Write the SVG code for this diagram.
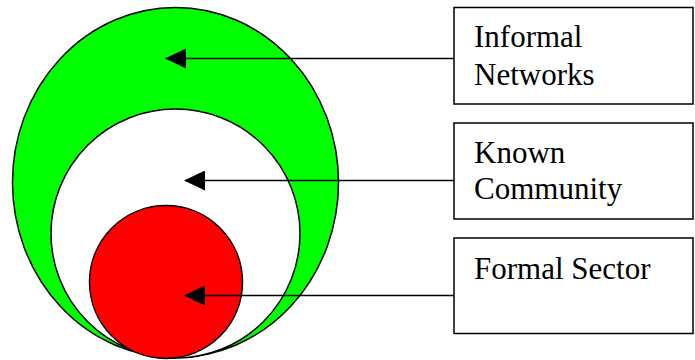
<svg xmlns="http://www.w3.org/2000/svg" width="695" height="360" viewBox="0 0 695 360">
<style>
.shape{stroke:#000;stroke-width:1.5}
.box{fill:#fff;stroke:#000;stroke-width:1.5}
.lbl{font-family:"Liberation Serif","Times New Roman",serif;font-size:31px;fill:#000}
.conn{stroke:#000;stroke-width:1.5;fill:none}
</style>
<defs>
<marker id="ah" markerWidth="21" markerHeight="20" refX="20" refY="10" orient="auto" markerUnits="userSpaceOnUse">
<path d="M0,0 L21,10 L0,20 Z" fill="#000"/>
</marker>
</defs>
<g id="informal-networks">
<ellipse class="shape" cx="175.5" cy="182.5" rx="163" ry="175" fill="#00ff00"/>
</g>
<g id="known-community">
<circle class="shape" cx="175.5" cy="233.5" r="124.5" fill="#fff"/>
</g>
<g id="formal-sector">
<circle class="shape" cx="166" cy="282" r="76.5" fill="#ff0000"/>
</g>
<g id="box-informal">
<rect class="box" x="454" y="7.5" width="239" height="96.5"/>
<text class="lbl" x="474" y="47">Informal</text>
<text class="lbl" x="474" y="85">Networks</text>
</g>
<g id="box-known">
<rect class="box" x="454" y="123" width="239" height="96"/>
<text class="lbl" x="474" y="163">Known</text>
<text class="lbl" x="474" y="199">Community</text>
</g>
<g id="box-formal">
<rect class="box" x="454" y="238" width="239" height="95.5"/>
<text class="lbl" x="474" y="279">Formal Sector</text>
</g>
<g id="connectors">
<line class="conn" x1="454" y1="58.5" x2="166" y2="58.5" marker-end="url(#ah)"/>
<line class="conn" x1="454" y1="180.5" x2="185" y2="180.5" marker-end="url(#ah)"/>
<line class="conn" x1="454" y1="295.5" x2="185" y2="295.5" marker-end="url(#ah)"/>
</g>
</svg>
